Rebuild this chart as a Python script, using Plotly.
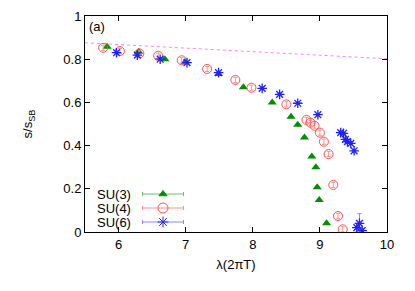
import plotly.graph_objects as go

# ---- data ----
SU3_X = [5.83, 6.30, 6.69, 6.99, 7.49, 7.86, 8.29, 8.57, 8.67, 8.77, 8.88, 8.94, 8.96, 8.99, 9.10]
SU3_Y = [0.858, 0.835, 0.800, 0.787, 0.731, 0.670, 0.600, 0.534, 0.497, 0.438, 0.349, 0.300, 0.207, 0.148, 0.040]
SU3_E = [0.005] * len(SU3_X)

SU4_X = [5.77, 6.02, 6.31, 6.59, 6.94, 7.32, 7.74, 7.98, 8.50, 8.80, 8.86, 8.92, 9.00, 9.06, 9.13, 9.20, 9.27, 9.34]
SU4_Y = [0.853, 0.838, 0.827, 0.816, 0.795, 0.755, 0.704, 0.668, 0.591, 0.519, 0.506, 0.492, 0.460, 0.418, 0.361, 0.218, 0.074, 0.0125]
SU4_E = [0.012] * len(SU4_X)

SU6_X = [5.97, 6.28, 6.62, 7.02, 7.49, 8.14, 8.40, 8.67, 8.97, 9.31, 9.35, 9.38, 9.41, 9.46, 9.51, 9.55, 9.59, 9.63]
SU6_Y = [0.830, 0.819, 0.800, 0.784, 0.738, 0.665, 0.637, 0.596, 0.543, 0.460, 0.457, 0.429, 0.418, 0.410, 0.376, 0.020, 0.040, 0.006]
SU6_E = [0.005] * 15 + [0.02, 0.045, 0.01]

LINE_X = [5.5, 10.0]
LINE_Y = [0.876, 0.802]

SERIES = ["SU(3)", "SU(4)", "SU(6)"]
X_TICKS = [6, 7, 8, 9, 10]
Y_TICKS = [0, 0.2, 0.4, 0.6, 0.8, 1]

GREEN, RED, BLUE = "#009000", "#ff5050", "#2020ff"
GREEN_L, RED_L, BLUE_L = "#70c070", "#ff9090", "#8a8aff"
FONT = "Liberation Sans, Arial, sans-serif"

fig = go.Figure()

fig.add_trace(go.Scatter(x=LINE_X, y=LINE_Y, mode="lines",
                         line=dict(color="#ff80ff", width=1, dash="dot"),
                         showlegend=False, hoverinfo="skip"))

fig.add_trace(go.Scatter(x=SU3_X, y=SU3_Y, mode="markers", showlegend=False,
                         error_y=dict(type="data", array=SU3_E, color=GREEN_L, thickness=1, width=2),
                         marker=dict(symbol="triangle-up", size=8, color=GREEN)))
fig.add_trace(go.Scatter(x=SU4_X, y=SU4_Y, mode="markers", showlegend=False,
                         error_y=dict(type="data", array=SU4_E, color=RED_L, thickness=1, width=2),
                         marker=dict(symbol="circle-open", size=9, color=RED, line=dict(width=1))))
fig.add_trace(go.Scatter(x=SU6_X, y=SU6_Y, mode="markers", showlegend=False,
                         error_y=dict(type="data", array=SU6_E, color=BLUE_L, thickness=1, width=2),
                         marker=dict(symbol="asterisk-open", size=8, color=BLUE, line=dict(width=1.3, color=BLUE))))

# ---- hand-built legend (on a pixel-like overlay axis) ----
LEG_Y = [194, 208, 222]
LEG_SYM = ["triangle-up", "circle-open", "asterisk-open"]
LEG_COL = [GREEN, RED, BLUE]
LEG_LCOL = [GREEN_L, RED_L, BLUE_L]
LEG_SIZE = [7, 10, 9]
for name, yy, sym, col, lcol, sz in zip(SERIES, LEG_Y, LEG_SYM, LEG_COL, LEG_LCOL, LEG_SIZE):
    fig.add_trace(go.Scatter(x=[163], y=[yy], xaxis="x2", yaxis="y2", mode="markers",
                             showlegend=False, hoverinfo="skip",
                             error_x=dict(type="constant", value=20.5, color=lcol, thickness=1, width=2),
                             marker=dict(symbol=sym, size=sz, color=col, line=dict(width=1, color=col))))
    fig.add_annotation(x=133, y=yy, xref="x2", yref="y2", text=name, showarrow=False,
                       xanchor="right", yanchor="middle",
                       font=dict(family=FONT, size=13, color="black"))

fig.add_annotation(x=0.008, y=0.995, xref="paper", yref="paper", text="(a)", showarrow=False,
                   xanchor="left", yanchor="top", font=dict(family=FONT, size=13, color="black"))

axis_common = dict(showgrid=False, zeroline=False, showline=True, linecolor="black", linewidth=1,
                   mirror="ticks", ticks="inside", ticklen=5, tickcolor="black", automargin=False,
                   tickfont=dict(family=FONT, size=13, color="black"))

fig.update_layout(
    width=415, height=291,
    margin=dict(l=85, r=28, t=16, b=59),
    paper_bgcolor="white", plot_bgcolor="white",
    font=dict(family=FONT, size=13, color="black"),
    xaxis=dict(range=[5.5, 10], tickvals=X_TICKS, ticktext=[str(v) for v in X_TICKS],
               title=dict(text="λ(2πT)", standoff=9, font=dict(family=FONT, size=13)), **axis_common),
    yaxis=dict(range=[0, 1], tickvals=Y_TICKS, ticktext=["0", "0.2", "0.4", "0.6", "0.8", "1"],
               title=dict(text="s/s<sub>SB</sub>", standoff=27, font=dict(family=FONT, size=13)), **axis_common),
    xaxis2=dict(range=[85, 387], overlaying="x", visible=False, domain=[0, 1]),
    yaxis2=dict(range=[232, 16], overlaying="y", visible=False, domain=[0, 1]),
    showlegend=False,
)

fig.write_html("out.html", config={"displayModeBar": False},
               post_script="document.body.style.margin='0';")
